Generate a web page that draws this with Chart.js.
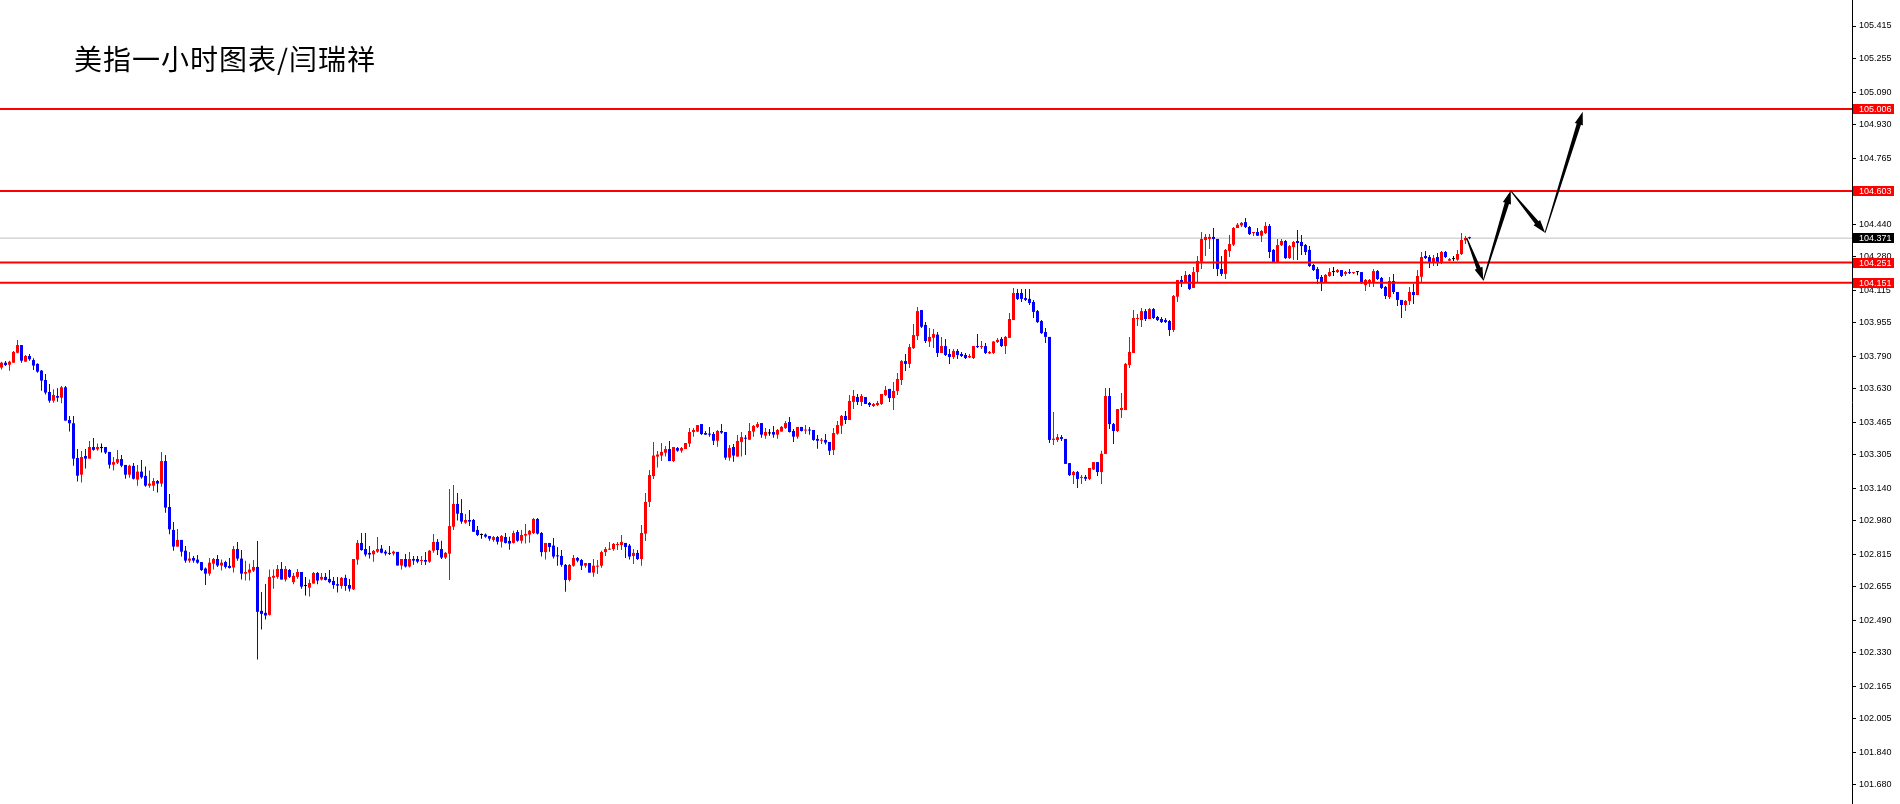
<!DOCTYPE html>
<html>
<head>
<meta charset="utf-8">
<title>美指一小时图表/闫瑞祥</title>
<script src="https://cdn.jsdelivr.net/npm/chart.js@4.4.1/dist/chart.umd.min.js"></script>
<style>
  html, body { margin: 0; padding: 0; background: #fff; }
  #wrap { width: 1900px; height: 804px; }
</style>
</head>
<body>
<div id="wrap"><canvas id="myChart" width="1900" height="804"></canvas></div>
<script>
// H1 candles (oldest first)
const opens = [
  103.734,103.758,103.748,103.758,103.807,103.845,103.763,103.791,103.771,103.752,
  103.719,103.673,103.614,103.571,103.594,103.586,103.637,103.476,103.460,103.289,
  103.207,103.299,103.286,103.343,103.332,103.338,103.343,103.319,103.256,103.266,
  103.284,103.255,103.207,103.250,103.183,103.222,103.201,103.153,103.153,103.176,
  103.163,103.274,103.048,102.935,102.853,102.886,102.833,102.784,102.797,102.789,
  102.777,102.745,102.720,102.769,102.792,102.760,102.777,102.758,102.750,102.841,
  102.794,102.720,102.725,102.735,102.753,102.537,102.527,102.517,102.700,102.704,
  102.743,102.691,102.738,102.678,102.704,102.728,102.659,102.651,102.671,102.723,
  102.691,102.704,102.694,102.684,102.668,102.659,102.699,102.664,102.643,102.789,
  102.871,102.841,102.822,102.815,102.828,102.843,102.828,102.822,102.819,102.827,
  102.760,102.792,102.755,102.792,102.792,102.782,102.787,102.779,102.833,102.876,
  102.841,102.799,102.818,102.951,103.063,103.018,102.971,102.984,102.984,102.935,
  102.910,102.912,102.905,102.886,102.900,102.877,102.900,102.881,102.871,102.925,
  102.882,102.907,102.912,102.920,102.989,102.920,102.826,102.871,102.858,102.809,
  102.807,102.763,102.689,102.759,102.797,102.787,102.759,102.772,102.725,102.754,
  102.759,102.826,102.838,102.841,102.861,102.861,102.871,102.858,102.807,102.822,
  102.792,102.917,103.073,103.200,103.296,103.301,103.315,103.333,103.274,103.338,
  103.325,103.333,103.360,103.417,103.419,103.456,103.412,103.407,103.407,103.374,
  103.422,103.417,103.291,103.343,103.296,103.368,103.389,103.379,103.419,103.442,
  103.461,103.399,103.410,103.417,103.404,103.419,103.437,103.466,103.422,103.394,
  103.442,103.424,103.427,103.427,103.383,103.374,103.378,103.368,103.328,103.409,
  103.448,103.496,103.476,103.565,103.589,103.565,103.589,103.560,103.545,103.550,
  103.555,103.599,103.629,103.584,103.619,103.673,103.766,103.752,103.830,103.889,
  104.017,103.944,103.862,103.881,103.896,103.806,103.840,103.801,103.786,103.816,
  103.801,103.796,103.784,103.781,103.840,103.835,103.840,103.804,103.806,103.860,
  103.875,103.840,103.880,103.968,104.101,104.101,104.076,104.072,104.057,104.012,
  103.963,103.909,103.885,103.378,103.378,103.392,103.383,103.264,103.205,103.220,
  103.191,103.196,103.186,103.233,103.269,103.220,103.309,103.594,103.456,103.422,
  103.525,103.525,103.747,103.806,103.973,103.968,104.012,103.973,104.022,103.983,
  103.973,103.968,103.963,103.919,104.083,104.165,104.155,104.190,104.126,104.204,
  104.255,104.362,104.367,104.377,104.367,104.219,104.195,104.308,104.339,104.421,
  104.434,104.450,104.426,104.396,104.401,104.383,104.396,104.431,104.313,104.254,
  104.337,104.357,104.273,104.327,104.357,104.352,104.337,104.313,104.239,104.219,
  104.180,104.155,104.185,104.204,104.204,104.214,104.195,104.204,104.199,104.204,
  104.204,104.140,104.152,104.155,104.209,104.175,104.131,104.081,104.160,104.106,
  104.067,104.042,104.062,104.106,104.091,104.181,104.283,104.278,104.254,104.278,
  104.254,104.303,104.260,104.268,104.265,104.293,104.360,104.372
];
const highs = [
  103.763,103.766,103.768,103.816,103.870,103.845,103.796,103.801,103.780,103.755,
  103.722,103.702,103.653,103.627,103.632,103.643,103.643,103.496,103.496,103.333,
  103.324,103.333,103.373,103.388,103.361,103.361,103.343,103.319,103.294,103.329,
  103.304,103.255,103.256,103.265,103.255,103.279,103.247,103.227,103.191,103.181,
  103.319,103.304,103.112,102.974,102.940,102.886,102.856,102.827,102.807,102.812,
  102.777,102.750,102.797,102.797,102.812,102.789,102.784,102.797,102.856,102.876,
  102.836,102.784,102.769,102.787,102.881,102.630,102.669,102.740,102.740,102.763,
  102.777,102.758,102.743,102.723,102.743,102.728,102.704,102.691,102.728,102.728,
  102.723,102.723,102.738,102.704,102.704,102.704,102.714,102.694,102.792,102.886,
  102.920,102.920,102.856,102.836,102.900,102.861,102.836,102.856,102.832,102.827,
  102.792,102.817,102.827,102.807,102.807,102.807,102.826,102.836,102.915,102.890,
  102.882,102.826,103.137,103.156,103.117,103.087,103.014,103.033,102.989,102.954,
  102.917,102.917,102.905,102.905,102.905,102.910,102.920,102.902,102.931,102.935,
  102.935,102.964,102.935,102.994,102.994,102.925,102.871,102.871,102.895,102.851,
  102.836,102.767,102.767,102.812,102.802,102.792,102.772,102.772,102.792,102.787,
  102.833,102.851,102.876,102.871,102.876,102.910,102.871,102.866,102.841,102.836,
  102.959,103.117,103.230,103.368,103.324,103.363,103.348,103.373,103.343,103.343,
  103.343,103.363,103.437,103.437,103.451,103.456,103.422,103.442,103.417,103.427,
  103.456,103.417,103.353,103.358,103.402,103.417,103.402,103.461,103.451,103.466,
  103.461,103.437,103.432,103.447,103.432,103.447,103.471,103.491,103.432,103.442,
  103.442,103.451,103.442,103.427,103.402,103.387,103.407,103.368,103.437,103.471,
  103.501,103.520,103.599,103.624,103.604,103.604,103.589,103.565,103.560,103.570,
  103.604,103.643,103.629,103.663,103.707,103.771,103.801,103.850,103.948,104.032,
  104.017,103.958,103.929,103.924,103.909,103.885,103.875,103.825,103.825,103.825,
  103.811,103.806,103.801,103.840,103.899,103.865,103.855,103.816,103.865,103.880,
  103.885,103.889,104.003,104.126,104.121,104.121,104.121,104.121,104.067,104.017,
  103.968,103.929,103.885,103.515,103.407,103.402,103.383,103.264,103.225,103.225,
  103.205,103.205,103.240,103.269,103.269,103.325,103.634,103.634,103.461,103.530,
  103.609,103.757,103.885,104.017,103.998,104.027,104.022,104.027,104.027,103.988,
  103.983,103.978,103.968,104.091,104.165,104.185,104.209,104.195,104.229,104.283,
  104.401,104.391,104.391,104.421,104.367,104.283,104.318,104.386,104.426,104.446,
  104.450,104.470,104.431,104.401,104.421,104.411,104.450,104.441,104.318,104.367,
  104.367,104.362,104.337,104.357,104.411,104.386,104.342,104.332,104.244,104.229,
  104.190,104.195,104.224,104.229,104.219,104.214,104.209,104.219,104.204,104.204,
  104.204,104.170,104.170,104.219,104.214,104.180,104.136,104.180,104.195,104.106,
  104.067,104.067,104.131,104.145,104.214,104.303,104.308,104.288,104.288,104.298,
  104.308,104.308,104.273,104.283,104.313,104.396,104.382,104.378
];
const lows = [
  103.725,103.742,103.719,103.758,103.804,103.758,103.763,103.768,103.722,103.709,
  103.620,103.602,103.561,103.561,103.566,103.558,103.473,103.419,103.251,103.173,
  103.168,103.238,103.286,103.325,103.325,103.316,103.309,103.237,103.227,103.260,
  103.243,103.187,103.192,103.183,103.153,103.187,103.148,103.143,103.127,103.119,
  103.148,103.020,102.914,102.833,102.853,102.804,102.774,102.774,102.774,102.769,
  102.733,102.664,102.709,102.740,102.753,102.735,102.745,102.745,102.725,102.784,
  102.691,102.686,102.686,102.728,102.297,102.445,102.494,102.514,102.646,102.695,
  102.691,102.681,102.699,102.668,102.695,102.646,102.612,102.607,102.671,102.668,
  102.686,102.686,102.673,102.646,102.627,102.646,102.636,102.632,102.640,102.764,
  102.833,102.804,102.794,102.779,102.823,102.820,102.809,102.812,102.809,102.760,
  102.740,102.750,102.750,102.764,102.771,102.763,102.763,102.774,102.823,102.812,
  102.792,102.792,102.689,102.935,102.981,102.966,102.966,102.954,102.926,102.905,
  102.892,102.897,102.882,102.877,102.863,102.848,102.868,102.838,102.868,102.877,
  102.868,102.868,102.872,102.915,102.912,102.804,102.789,102.828,102.794,102.759,
  102.754,102.631,102.681,102.754,102.776,102.738,102.749,102.725,102.705,102.718,
  102.749,102.807,102.836,102.833,102.836,102.836,102.797,102.789,102.767,102.787,
  102.759,102.881,103.048,103.186,103.242,103.274,103.296,103.274,103.269,103.320,
  103.315,103.333,103.343,103.394,103.417,103.402,103.402,103.394,103.353,103.345,
  103.409,103.281,103.276,103.271,103.296,103.296,103.304,103.379,103.394,103.437,
  103.389,103.384,103.399,103.389,103.384,103.419,103.432,103.414,103.368,103.384,
  103.419,103.407,103.404,103.374,103.335,103.358,103.355,103.304,103.304,103.404,
  103.407,103.456,103.476,103.530,103.550,103.545,103.555,103.540,103.540,103.545,
  103.550,103.594,103.565,103.525,103.599,103.648,103.717,103.732,103.825,103.870,
  103.929,103.855,103.835,103.830,103.786,103.806,103.791,103.752,103.776,103.776,
  103.786,103.776,103.781,103.776,103.830,103.825,103.801,103.801,103.801,103.855,
  103.835,103.801,103.880,103.968,104.067,104.057,104.062,104.042,103.978,103.953,
  103.899,103.855,103.363,103.353,103.368,103.373,103.260,103.200,103.161,103.141,
  103.161,103.176,103.181,103.230,103.200,103.161,103.309,103.432,103.358,103.417,
  103.486,103.525,103.732,103.806,103.939,103.934,103.963,103.973,103.973,103.963,
  103.953,103.953,103.889,103.909,104.057,104.131,104.155,104.116,104.126,104.155,
  104.219,104.283,104.318,104.219,104.185,104.185,104.170,104.278,104.332,104.421,
  104.426,104.421,104.386,104.382,104.382,104.352,104.391,104.273,104.254,104.254,
  104.332,104.268,104.268,104.263,104.263,104.288,104.288,104.229,104.209,104.145,
  104.111,104.155,104.181,104.185,104.199,104.180,104.185,104.195,104.195,104.188,
  104.145,104.111,104.131,104.131,104.165,104.121,104.072,104.072,104.096,104.037,
  103.978,104.012,104.042,104.047,104.091,104.155,104.268,104.224,104.234,104.234,
  104.244,104.273,104.259,104.259,104.260,104.288,104.342,104.365
];
const closes = [
  103.758,103.747,103.763,103.811,103.845,103.768,103.791,103.775,103.744,103.714,
  103.670,103.611,103.571,103.599,103.586,103.637,103.473,103.460,103.286,103.202,
  103.294,103.286,103.343,103.329,103.343,103.338,103.316,103.256,103.269,103.284,
  103.251,103.207,103.251,103.187,103.222,103.194,103.153,103.163,103.176,103.163,
  103.274,103.045,102.938,102.853,102.886,102.828,102.784,102.794,102.784,102.774,
  102.738,102.720,102.774,102.792,102.760,102.774,102.753,102.748,102.841,102.794,
  102.720,102.728,102.740,102.753,102.532,102.522,102.514,102.704,102.709,102.743,
  102.691,102.743,102.704,102.709,102.728,102.656,102.659,102.674,102.723,102.686,
  102.704,102.689,102.678,102.664,102.661,102.699,102.659,102.646,102.792,102.871,
  102.836,102.814,102.814,102.832,102.841,102.823,102.819,102.817,102.828,102.760,
  102.792,102.755,102.792,102.784,102.779,102.787,102.779,102.833,102.876,102.836,
  102.799,102.822,102.954,103.063,103.015,102.976,102.984,102.976,102.926,102.910,
  102.910,102.902,102.892,102.900,102.877,102.905,102.871,102.868,102.920,102.882,
  102.910,102.915,102.931,102.989,102.917,102.826,102.871,102.851,102.804,102.805,
  102.763,102.689,102.763,102.797,102.784,102.759,102.772,102.725,102.759,102.759,
  102.826,102.841,102.843,102.866,102.866,102.876,102.851,102.804,102.822,102.792,
  102.920,103.073,103.205,103.301,103.306,103.319,103.333,103.274,103.343,103.325,
  103.338,103.363,103.417,103.427,103.451,103.407,103.404,103.404,103.374,103.422,
  103.414,103.291,103.338,103.301,103.373,103.392,103.384,103.422,103.447,103.456,
  103.404,103.417,103.410,103.404,103.427,103.442,103.461,103.417,103.394,103.442,
  103.422,103.427,103.424,103.378,103.374,103.379,103.365,103.325,103.412,103.451,
  103.496,103.476,103.570,103.594,103.565,103.594,103.555,103.550,103.555,103.560,
  103.604,103.624,103.584,103.619,103.678,103.766,103.752,103.835,103.894,104.012,
  103.935,103.865,103.885,103.899,103.806,103.840,103.796,103.786,103.816,103.796,
  103.791,103.781,103.791,103.840,103.835,103.840,103.806,103.811,103.862,103.870,
  103.840,103.885,103.973,104.101,104.072,104.072,104.067,104.052,104.008,103.958,
  103.904,103.885,103.378,103.384,103.392,103.383,103.260,103.205,103.220,103.186,
  103.196,103.187,103.240,103.269,103.220,103.310,103.594,103.456,103.422,103.530,
  103.535,103.752,103.811,103.978,103.978,104.012,103.973,104.022,103.978,103.968,
  103.958,103.958,103.919,104.086,104.165,104.155,104.190,104.121,104.204,104.259,
  104.367,104.377,104.377,104.367,104.219,104.195,104.313,104.342,104.421,104.437,
  104.446,104.426,104.391,104.401,104.383,104.406,104.431,104.303,104.254,104.337,
  104.357,104.273,104.332,104.352,104.347,104.332,104.303,104.234,104.214,104.170,
  104.155,104.190,104.204,104.204,104.214,104.185,104.204,104.199,104.204,104.204,
  104.155,104.165,104.165,104.209,104.170,104.126,104.086,104.160,104.106,104.067,
  104.042,104.062,104.106,104.091,104.185,104.278,104.273,104.254,104.273,104.254,
  104.303,104.278,104.268,104.268,104.293,104.362,104.372,104.371
];

// price scale labels on the right
const yTicks = [
  105.415, 105.255, 105.090, 104.930, 104.765, 104.600, 104.440, 104.280,
  104.115, 103.955, 103.790, 103.630, 103.465, 103.305, 103.140, 102.980,
  102.815, 102.655, 102.490, 102.330, 102.165, 102.005, 101.840, 101.680
];
const levels = [105.006, 104.603, 104.251, 104.151]; // red horizontal lines
const lastPrice = 104.371;
// zigzag forecast (bar index, price)
const arrowX = [366.3, 370.45, 377.3, 385.9, 395.3];
const arrowY = [104.372, 104.163, 104.604, 104.398, 104.993];
const titleText = '美指一小时图表/闫瑞祥';

const xMin = -0.375, xMax = 462.625;   // 4px per bar slot
const UP = '#ff0000', DOWN = '#0000ff', FLAT = '#000000';

const colors = opens.map((o, i) => closes[i] > o ? UP : (closes[i] < o ? DOWN : FLAT));
const wickData = opens.map((o, i) => ({ x: i, y: [lows[i], highs[i]] }));
const bodyData = opens.map((o, i) => ({ x: i, y: [o, closes[i]] }));

const levelSets = levels.map(v => ({
  type: 'line',
  data: [{ x: xMin, y: v }, { x: xMax, y: v }],
  borderColor: '#ff0000',
  borderWidth: 2,
  pointRadius: 0,
  order: 0
}));

// forecast arrows, tapered shaft + head
const arrowsPlugin = {
  id: 'arrows',
  afterDatasetsDraw(chart) {
    const { ctx, scales: { x, y } } = chart;
    ctx.save();
    ctx.fillStyle = '#000';
    for (let k = 0; k < arrowX.length - 1; k++) {
      const x0 = x.getPixelForValue(arrowX[k]), y0 = y.getPixelForValue(arrowY[k]);
      const x1 = x.getPixelForValue(arrowX[k + 1]), y1 = y.getPixelForValue(arrowY[k + 1]);
      const len = Math.hypot(x1 - x0, y1 - y0);
      const ux = (x1 - x0) / len, uy = (y1 - y0) / len;
      const px = -uy, py = ux;
      const head = 13, hw = 4.2, sw = 2.2, tw = 0.5;
      const bx = x1 - ux * head, by = y1 - uy * head;
      ctx.beginPath();
      ctx.moveTo(x0 + px * tw, y0 + py * tw);
      ctx.lineTo(bx + px * sw, by + py * sw);
      ctx.lineTo(bx + px * hw, by + py * hw);
      ctx.lineTo(x1, y1);
      ctx.lineTo(bx - px * hw, by - py * hw);
      ctx.lineTo(bx - px * sw, by - py * sw);
      ctx.lineTo(x0 - px * tw, y0 - py * tw);
      ctx.closePath();
      ctx.fill();
    }
    ctx.restore();
  }
};

// price tags on the axis and the title
const tagsPlugin = {
  id: 'tags',
  afterDraw(chart) {
    const { ctx, chartArea, scales: { y } } = chart;
    ctx.save();
    ctx.font = '9px "Liberation Sans"';
    ctx.textBaseline = 'middle';
    ctx.textAlign = 'left';
    const tag = (v, bg) => {
      const py = Math.round(y.getPixelForValue(v));
      ctx.fillStyle = bg;
      ctx.fillRect(chartArea.right + 1, py - 5, 41, 10);
      ctx.fillStyle = '#fff';
      ctx.fillText(v.toFixed(3), chartArea.right + 7, py + 0.5);
    };
    levels.forEach(v => tag(v, '#ff0000'));
    tag(lastPrice, '#000000');

    ctx.fillStyle = '#000';
    ctx.font = '28px "Noto Sans CJK SC"';
    if ('letterSpacing' in ctx) ctx.letterSpacing = '1px';
    ctx.fillText(titleText, 74, 59);
    ctx.restore();
  }
};

const ctx = document.getElementById('myChart');
new Chart(ctx, {
  type: 'bar',
  data: {
    datasets: [
      ...levelSets,
      {
        data: bodyData,
        backgroundColor: colors,
        barThickness: 3,
        minBarLength: 1,
        grouped: false,
        inflateAmount: 0,
        borderWidth: 0,
        order: 1
      },
      {
        data: wickData,
        backgroundColor: colors,
        barThickness: 1,
        grouped: false,
        inflateAmount: 0,
        borderWidth: 0,
        order: 2
      },
      {
        type: 'line',
        data: [{ x: xMin, y: lastPrice }, { x: xMax, y: lastPrice }],
        borderColor: '#c0c0c0',
        borderWidth: 1,
        pointRadius: 0,
        order: 3
      }
    ]
  },
  options: {
    responsive: false,
    devicePixelRatio: 1,
    animation: false,
    events: [],
    layout: { padding: 0 },
    plugins: {
      legend: { display: false },
      tooltip: { enabled: false },
      title: { display: false }
    },
    scales: {
      x: {
        type: 'linear',
        display: false,
        offset: false,
        min: xMin,
        max: xMax,
        grid: { display: false }
      },
      y: {
        position: 'right',
        min: 101.5863,
        max: 105.5430,
        afterBuildTicks: (s) => { s.ticks = yTicks.map(v => ({ value: v })); },
        afterFit: (s) => { s.width = 48; s.paddingTop = 0; s.paddingBottom = 0; },
        ticks: {
          autoSkip: false,
          padding: 3,
          color: '#000',
          font: { family: 'Liberation Sans', size: 9 },
          callback: (v) => Number(v).toFixed(3)
        },
        grid: { drawOnChartArea: false, drawTicks: true, tickLength: 4, color: '#000' },
        border: { display: true, color: '#000', width: 1 }
      }
    }
  },
  plugins: [arrowsPlugin, tagsPlugin]
});
</script>
</body>
</html>
